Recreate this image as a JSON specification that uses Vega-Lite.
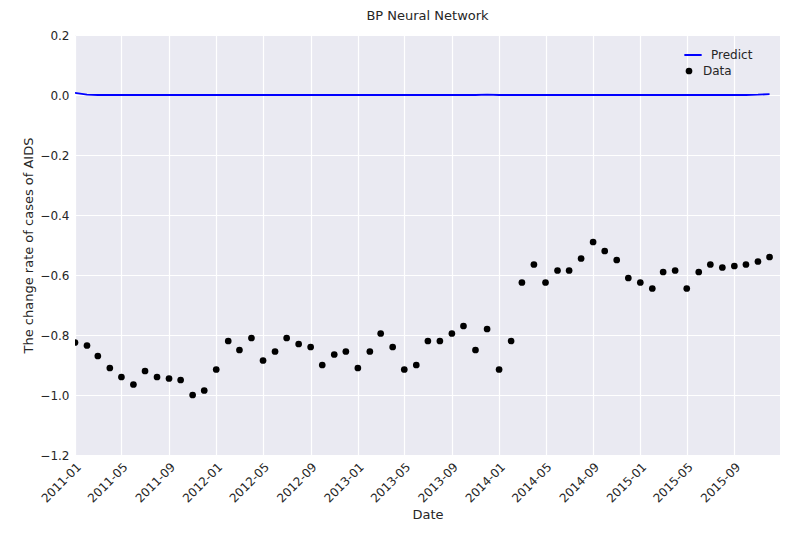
{
  "$schema": "https://vega.github.io/schema/vega-lite/v6.json",
  "autosize": "none",
  "width": 705,
  "height": 420,
  "padding": {"left": 75, "top": 35, "right": 20, "bottom": 91},
  "background": "white",
  "title": {"text": "BP Neural Network", "font": "DejaVu Sans", "fontSize": 13, "fontWeight": "normal", "color": "#262626", "offset": 6},
  "data": {
    "values": [
      {"date": "2011-01-01", "data": -0.825, "predict": 0.007},
      {"date": "2011-02-01", "data": -0.835, "predict": 0.001},
      {"date": "2011-03-01", "data": -0.87, "predict": 0.0},
      {"date": "2011-04-01", "data": -0.91, "predict": 0.0},
      {"date": "2011-05-01", "data": -0.94, "predict": 0.0},
      {"date": "2011-06-01", "data": -0.965, "predict": 0.0},
      {"date": "2011-07-01", "data": -0.92, "predict": 0.0},
      {"date": "2011-08-01", "data": -0.94, "predict": 0.0},
      {"date": "2011-09-01", "data": -0.945, "predict": 0.0},
      {"date": "2011-10-01", "data": -0.95, "predict": 0.0},
      {"date": "2011-11-01", "data": -1.0, "predict": 0.0},
      {"date": "2011-12-01", "data": -0.985, "predict": 0.0},
      {"date": "2012-01-01", "data": -0.915, "predict": 0.0},
      {"date": "2012-02-01", "data": -0.82, "predict": 0.0},
      {"date": "2012-03-01", "data": -0.85, "predict": 0.0},
      {"date": "2012-04-01", "data": -0.81, "predict": 0.0},
      {"date": "2012-05-01", "data": -0.885, "predict": 0.0},
      {"date": "2012-06-01", "data": -0.855, "predict": 0.0},
      {"date": "2012-07-01", "data": -0.81, "predict": 0.0},
      {"date": "2012-08-01", "data": -0.83, "predict": 0.0},
      {"date": "2012-09-01", "data": -0.84, "predict": 0.0},
      {"date": "2012-10-01", "data": -0.9, "predict": 0.0},
      {"date": "2012-11-01", "data": -0.865, "predict": 0.0},
      {"date": "2012-12-01", "data": -0.855, "predict": 0.0},
      {"date": "2013-01-01", "data": -0.91, "predict": 0.0},
      {"date": "2013-02-01", "data": -0.855, "predict": 0.0},
      {"date": "2013-03-01", "data": -0.795, "predict": 0.0},
      {"date": "2013-04-01", "data": -0.84, "predict": 0.0},
      {"date": "2013-05-01", "data": -0.915, "predict": 0.0},
      {"date": "2013-06-01", "data": -0.9, "predict": 0.0},
      {"date": "2013-07-01", "data": -0.82, "predict": 0.0},
      {"date": "2013-08-01", "data": -0.82, "predict": 0.0},
      {"date": "2013-09-01", "data": -0.795, "predict": 0.0},
      {"date": "2013-10-01", "data": -0.77, "predict": 0.0},
      {"date": "2013-11-01", "data": -0.85, "predict": 0.0},
      {"date": "2013-12-01", "data": -0.78, "predict": 0.001},
      {"date": "2014-01-01", "data": -0.915, "predict": 0.0},
      {"date": "2014-02-01", "data": -0.82, "predict": 0.0},
      {"date": "2014-03-01", "data": -0.625, "predict": 0.0},
      {"date": "2014-04-01", "data": -0.565, "predict": 0.0},
      {"date": "2014-05-01", "data": -0.625, "predict": 0.0},
      {"date": "2014-06-01", "data": -0.585, "predict": 0.0},
      {"date": "2014-07-01", "data": -0.585, "predict": 0.0},
      {"date": "2014-08-01", "data": -0.545, "predict": 0.0},
      {"date": "2014-09-01", "data": -0.49, "predict": 0.0},
      {"date": "2014-10-01", "data": -0.52, "predict": 0.0},
      {"date": "2014-11-01", "data": -0.55, "predict": 0.0},
      {"date": "2014-12-01", "data": -0.61, "predict": 0.0},
      {"date": "2015-01-01", "data": -0.625, "predict": 0.0},
      {"date": "2015-02-01", "data": -0.645, "predict": 0.0},
      {"date": "2015-03-01", "data": -0.59, "predict": 0.0},
      {"date": "2015-04-01", "data": -0.585, "predict": 0.0},
      {"date": "2015-05-01", "data": -0.645, "predict": 0.0},
      {"date": "2015-06-01", "data": -0.59, "predict": 0.0},
      {"date": "2015-07-01", "data": -0.565, "predict": 0.0},
      {"date": "2015-08-01", "data": -0.575, "predict": 0.0},
      {"date": "2015-09-01", "data": -0.57, "predict": 0.0},
      {"date": "2015-10-01", "data": -0.565, "predict": 0.0},
      {"date": "2015-11-01", "data": -0.555, "predict": 0.001},
      {"date": "2015-12-01", "data": -0.54, "predict": 0.003}
    ]
  },
  "encoding": {
    "x": {
      "field": "date",
      "type": "temporal",
      "timeUnit": "utcyearmonth",
      "title": "Date",
      "scale": {"domain": [{"year": 2011, "month": 1, "utc": true}, {"year": 2015, "month": 12, "date": 28, "utc": true}]},
      "axis": {
        "format": "%Y-%m",
        "labelAngle": -45,
        "labelAlign": "right",
        "labelBaseline": "top",
        "values": [
          {"year": 2011, "month": 1, "utc": true}, {"year": 2011, "month": 5, "utc": true}, {"year": 2011, "month": 9, "utc": true},
          {"year": 2012, "month": 1, "utc": true}, {"year": 2012, "month": 5, "utc": true}, {"year": 2012, "month": 9, "utc": true},
          {"year": 2013, "month": 1, "utc": true}, {"year": 2013, "month": 5, "utc": true}, {"year": 2013, "month": 9, "utc": true},
          {"year": 2014, "month": 1, "utc": true}, {"year": 2014, "month": 5, "utc": true}, {"year": 2014, "month": 9, "utc": true},
          {"year": 2015, "month": 1, "utc": true}, {"year": 2015, "month": 5, "utc": true}, {"year": 2015, "month": 9, "utc": true}
        ]
      }
    }
  },
  "layer": [
    {
      "mark": {"type": "line", "strokeWidth": 1.8, "clip": true},
      "encoding": {
        "y": {
          "field": "predict",
          "type": "quantitative",
          "title": "The change rate of cases of AIDS",
          "scale": {"domain": [-1.2, 0.2], "nice": false, "zero": false},
          "axis": {"values": [-1.2, -1.0, -0.8, -0.6, -0.4, -0.2, 0.0, 0.2], "format": ".1f"}
        },
        "color": {"datum": "Predict", "type": "nominal", "scale": {"range": ["#0000ff"]}, "legend": {"symbolType": "stroke", "symbolStrokeWidth": 2, "symbolSize": 300, "orient": "none", "legendX": 608, "legendY": 10, "title": null}}
      }
    },
    {
      "mark": {"type": "point", "filled": true, "size": 45, "opacity": 1, "clip": true},
      "encoding": {
        "y": {"field": "data", "type": "quantitative"},
        "fill": {"datum": "Data", "type": "nominal", "scale": {"range": ["#000000"]}, "legend": {"symbolType": "circle", "symbolSize": 45, "orient": "none", "legendX": 608, "legendY": 30, "title": null}}
      }
    }
  ],
  "config": {
    "view": {"fill": "#EAEAF2", "stroke": null},
    "font": "DejaVu Sans",
    "axis": {
      "domain": false,
      "ticks": false,
      "grid": true,
      "gridColor": "white",
      "gridWidth": 1.2,
      "gridOpacity": 1,
      "labelFont": "DejaVu Sans",
      "labelFontSize": 12,
      "labelColor": "#262626",
      "labelPadding": 6,
      "titleFont": "DejaVu Sans",
      "titleFontSize": 13,
      "titleFontWeight": "normal",
      "titleColor": "#262626"
    },
    "legend": {
      "labelFont": "DejaVu Sans",
      "labelFontSize": 12,
      "labelColor": "#262626",
      "labelOffset": 8,
      "padding": 0
    }
  }
}
